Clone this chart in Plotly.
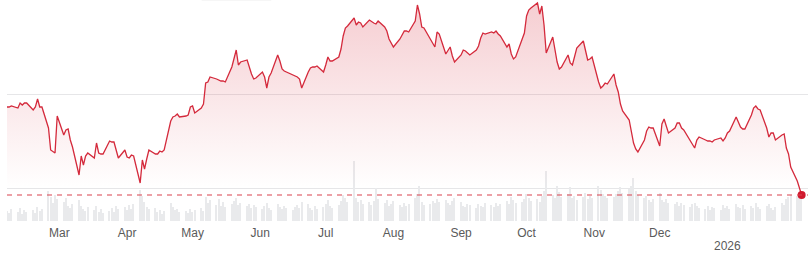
import plotly.graph_objects as go
import pandas as pd

# trading days (one year, daily)
dates = pd.bdate_range("2025-02-05", "2026-02-04")

# closing price (one value per trading day)
price = [
    19.3, 19.3, 19.4,
    19.2, 19.7, 19.5, 19.7, 19.7,
    19.0, 19.3, 20.1, 19.3, 19.3,
    17.2, 15.0, 14.8, 14.7, 18.4,
    16.5, 17.0, 17.1, 16.0, 15.3,
    12.5, 14.4, 13.5, 14.4, 14.7,
    14.2, 15.7, 14.7, 14.6, 14.6,
    15.9, 15.8, 15.8, 15.1, 14.2,
    15.0, 14.3, 14.2, 14.5, 14.4,
    11.7, 14.0, 13.1, 14.1, 15.0,
    14.6, 14.6, 14.9, 14.8, 15.0,
    17.9, 18.3, 18.4, 18.6, 18.3,
    18.4, 18.5, 19.3, 19.4, 18.7,
    19.2, 19.6, 21.7, 21.8, 22.3,
    22.1, 22.0, 21.9, 21.9, 21.8,
    23.3, 24.2, 25.0, 23.5, 23.8,
    24.0, 23.2, 22.6, 22.1, 22.2,
    22.8, 22.3, 21.2, 22.3, 22.7,
    24.5, 23.9, 23.1, 22.9, 22.8,
    22.5, 22.4, 22.3, 22.1, 21.2,
    22.8, 23.2, 23.3, 23.3, 23.4,
    22.8, 23.5, 24.3, 23.9, 23.9,
    24.3, 25.1, 26.4, 27.2, 27.4,
    28.2, 27.5, 27.8, 27.7, 27.3,
    28.0, 27.8, 27.7, 27.6, 27.9,
    27.3, 26.9, 26.1, 25.7, 25.3,
    26.1, 26.5, 26.9, 26.9, 26.8,
    27.9, 29.5, 28.6, 27.3, 27.2,
    26.0, 25.6, 25.3, 26.8, 26.6,
    24.6, 24.9, 25.3, 24.4, 23.8,
    24.5, 25.0, 24.9, 24.7, 24.5,
    25.0, 25.4, 26.2, 26.7, 26.6,
    26.8, 26.7, 26.9, 26.6, 26.4,
    25.3, 25.6, 24.6, 24.1, 24.3,
    26.0, 26.7, 28.4, 29.0, 29.2,
    29.7, 28.6, 29.4, 27.5, 24.7,
    26.3, 24.8, 23.8, 23.1, 23.3,
    24.5, 23.7, 23.5, 24.5, 25.2,
    25.9, 24.8, 24.0, 24.1, 24.3,
    21.8, 21.2, 21.4, 21.7, 21.6,
    22.6, 21.5, 20.8, 19.6, 18.9,
    18.0, 17.0, 15.7, 15.1, 14.8,
    16.0, 16.9, 17.3, 17.2, 17.2,
    15.4, 17.6, 18.1, 17.4, 16.7,
    17.2, 17.7, 17.7, 17.2, 17.0,
    15.9, 15.6, 15.2, 16.0, 16.3,
    16.0, 15.9, 15.9, 15.8, 16.0,
    16.2, 15.9, 16.2, 16.7, 16.9,
    18.3, 17.7, 17.3, 17.1, 17.1,
    18.5, 19.2, 19.4, 19.1, 19.0,
    17.2, 16.3, 16.7, 16.7, 16.0,
    16.5, 16.6, 15.2, 14.6, 13.3,
    11.9, 11.2, 10.5,
]

# traded volume (millions)
volume = [
    2.0, 1.6, 2.4,
    1.8, 2.6, 1.4, 2.2, 1.9,
    2.3, 1.7, 2.8, 2.0, 2.5,
    6.0, 4.8, 3.6, 5.2, 4.4,
    3.8, 4.6, 3.0, 2.6, 3.4,
    4.2, 3.0, 2.4, 2.0, 2.8,
    2.2, 3.1, 1.8, 2.4, 1.6,
    2.0, 2.6, 1.9, 3.0, 2.4,
    2.8, 2.2, 3.2, 2.5, 3.4,
    6.2, 5.0, 3.8, 2.9, 2.4,
    2.6, 1.8, 2.2, 1.5, 2.0,
    3.6, 2.8, 2.2, 2.4, 1.8,
    2.0, 1.6, 2.4, 1.9, 2.2,
    2.6, 2.1, 4.8, 3.6, 4.2,
    3.2, 4.4, 3.0, 3.8, 2.8,
    3.4, 4.0, 4.6, 3.2, 3.6,
    3.0, 3.4, 2.6, 3.2, 2.8,
    2.4, 3.0, 3.6, 2.6, 2.2,
    3.4, 2.8, 2.4, 3.0, 2.6,
    2.2, 2.8, 3.2, 2.6, 3.8,
    3.4, 2.6, 2.2, 3.0, 2.4,
    2.8, 3.4, 4.2, 3.0, 2.6,
    3.2, 4.0, 5.2, 4.6, 3.8,
    12.0, 4.6, 3.8, 4.2, 3.4,
    3.8, 3.2, 4.0, 6.6, 4.4,
    3.6, 4.2, 3.0, 3.4, 4.0,
    3.2, 2.8, 3.6, 3.0, 3.4,
    4.6, 5.4, 7.0, 3.8, 3.2,
    3.4, 4.0, 3.6, 4.4, 3.8,
    4.2, 3.6, 3.2, 4.0, 4.6,
    3.8, 3.0, 2.8, 3.4, 3.2,
    2.6, 3.4, 3.0, 2.8, 3.6,
    3.2, 2.8, 3.6, 3.0, 3.4,
    4.0, 3.4, 4.8, 4.2, 3.6,
    3.8, 4.4, 5.4, 4.6, 4.0,
    4.4, 3.8, 5.0, 6.0, 10.0,
    5.2, 4.6, 7.0, 5.8, 4.8,
    5.4, 6.8, 4.6, 5.0, 4.2,
    4.8, 5.6, 4.4, 5.0, 4.6,
    7.0, 6.2, 5.4, 5.0, 4.6,
    4.8, 5.4, 6.0, 6.8, 5.6,
    6.4, 7.0, 8.6, 6.0, 5.2,
    4.6, 5.0, 4.2, 3.8, 4.4,
    5.6, 4.2, 3.8, 4.4, 3.6,
    3.4, 3.8, 3.0, 3.6, 3.2,
    2.8, 3.4, 3.6, 3.0, 2.6,
    2.4, 3.0, 2.2, 2.8, 2.6,
    2.2, 3.2, 2.6, 3.0, 2.4,
    3.4, 2.8, 2.6, 3.2, 2.4,
    3.0, 2.6, 3.6, 2.8, 2.4,
    3.0, 3.4, 2.6, 2.2, 2.8,
    3.6, 3.2, 4.4, 4.8, 5.2,
    5.0, 5.6, 4.6,
]

month_ticks = ["2025-03-01", "2025-04-01", "2025-05-01", "2025-06-01",
               "2025-07-01", "2025-08-01", "2025-09-01", "2025-10-01",
               "2025-11-01", "2025-12-01", "2026-01-01"]
month_labels = ["Mar", "Apr", "May", "Jun", "Jul", "Aug", "Sep", "Oct",
                "Nov", "Dec", ""]
year_label = "2026"
grid_levels = [11.2, 20.6]

n = min(len(dates), len(price), len(volume))
dates = dates[:n]
price = price[:n]
volume = volume[:n]

RED = "#d42a3c"
FONT = "Liberation Sans, Arial, sans-serif"

fig = go.Figure()
fig.add_trace(go.Bar(
    x=dates, y=volume, yaxis="y",
    marker=dict(color="#e9eaec", line_width=0),
    width=0.6 * 86400000,
    hoverinfo="skip",
))
fig.add_trace(go.Scatter(
    x=dates, y=price, yaxis="y2", mode="lines",
    line=dict(color=RED, width=1.3),
    fill="tozeroy",
    fillgradient=dict(
        type="vertical",
        colorscale=[[0, "rgba(214,40,57,0)"], [1, "rgba(214,40,57,0.23)"]],
        start=11.2, stop=29.7,
    ),
))
fig.add_trace(go.Scatter(
    x=[dates[-1]], y=[price[-1]], yaxis="y2", mode="markers",
    marker=dict(color="#d0192e", size=8),
))
fig.add_shape(type="line", xref="paper", x0=0, x1=1, yref="y2",
              y0=price[-1], y1=price[-1],
              line=dict(color="#d9434f", width=1.2, dash="5px,5px"))
# faint shadow of a panel just above the chart
fig.add_shape(type="rect", xref="paper", yref="paper",
              x0=0.243, x1=0.33, y0=0.995, y1=1.03,
              fillcolor="rgba(0,0,0,0.035)", line_width=0, layer="above")

fig.add_annotation(x=month_ticks[-1], xref="x", y=-0.113, yref="paper",
                   text=year_label, showarrow=False, yanchor="middle",
                   font=dict(family=FONT, size=12, color="#5a5a5a"))

fig.update_layout(
    width=808, height=263,
    margin=dict(l=7, r=0, t=0, b=42),
    paper_bgcolor="white", plot_bgcolor="white",
    showlegend=False,
    bargap=0,
    xaxis=dict(
        type="date",
        range=["2025-02-05", "2026-02-06 22:00"],
        tickvals=month_ticks, ticktext=month_labels,
        showgrid=False, zeroline=False, showline=False, ticks="",
        ticklabelstandoff=3,
        tickfont=dict(family=FONT, size=12, color="#5a5a5a"),
    ),
    yaxis=dict(range=[0, 44.2], visible=False, fixedrange=True),
    yaxis2=dict(
        overlaying="y", range=[7.9, 30],
        tickvals=grid_levels, showticklabels=False,
        showgrid=True, gridcolor="#e6e6e8", gridwidth=1,
        zeroline=False, showline=False, ticks="",
    ),
)

fig.write_html("out.html")
